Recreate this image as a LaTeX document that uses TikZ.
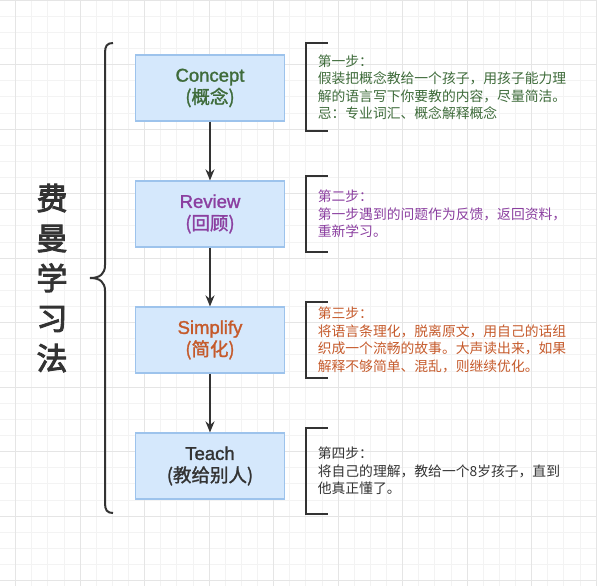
\documentclass[tikz,border=0pt]{standalone}
\usepackage{fontspec}
\setmainfont{Liberation Sans}
\newfontfamily\cjk{Noto Sans CJK SC}
\newfontfamily\boxlatin[FakeBold=1.5]{Liberation Sans}
\newfontfamily\boxcjk[FakeBold=1.5]{Noto Sans CJK SC}
\newfontfamily\titlecjk[FakeBold=3]{Noto Sans CJK SC}
\usepackage{tikz}
\usetikzlibrary{positioning,arrows.meta}

\definecolor{boxfill}{HTML}{D5E8FC}
\definecolor{boxline}{HTML}{9DC3EC}
\definecolor{stepgreen}{HTML}{3E6B3A}
\definecolor{steppurple}{HTML}{8B3FA0}
\definecolor{steporange}{HTML}{C55A2B}
\definecolor{stepgray}{HTML}{333333}
\definecolor{gridminor}{HTML}{F3F3F3}
\definecolor{gridmajor}{HTML}{E5E5E5}

\begin{document}
\begin{tikzpicture}[x=1pt,y=-1pt,node distance=126pt,on grid,>={Stealth[length=11pt,width=9pt]}]
      \tikzset{box/.style={draw=boxline,fill=boxfill,line width=1.2pt,minimum width=149pt,minimum height=66pt,align=center,font=\boxlatin\fontsize{18.5}{22}\selectfont}}
      \tikzset{note/.style={align=left,anchor=west,inner xsep=12pt,inner ysep=0pt,font=\cjk\fontsize{13.8}{17.5}\selectfont}}
      \tikzset{bracket/.style={draw=stepgray,line width=2pt}}
      \tikzset{flow/.style={->,draw=stepgray,line width=2pt}}
      
      \useasboundingbox (0,0) rectangle (597,586);
      % background grid
      \foreach \i in {0,...,37} {
        \draw[gridminor,line width=0.7pt] (-0.6+16.125*\i,0) -- (-0.6+16.125*\i,586);
        \draw[gridminor,line width=0.7pt] (0,16.125*\i) -- (597,16.125*\i);
      }
      \foreach \i in {0,...,9} {
        \draw[gridmajor,line width=0.8pt] (15.5+64.5*\i,0) -- (15.5+64.5*\i,586);
        \draw[gridmajor,line width=0.8pt] (0,64.5*\i) -- (597,64.5*\i);
      }
      
      \node[box,text=stepgreen] (concept) at (210,88) {Concept\\{\boxcjk (概念)}};
      \node[box,text=steppurple] (review) [below=of concept] {Review\\{\boxcjk (回顾)}};
      \node[box,text=steporange] (simplify) [below=of review] {Simplify\\{\boxcjk (简化)}};
      \node[box,text=stepgray] (teach) [below=of simplify] {Teach\\{\boxcjk (教给别人)}};
      
      \node[note,text=stepgreen,minimum height=88pt] (conceptnote) [on grid=false,right=20.5pt of concept,yshift=1pt]
        {第一步：\\假装把概念教给一个孩子，用孩子能力理\\解的语言写下你要教的内容，尽量简洁。\\忌：专业词汇、概念解释概念};
      \node[note,text=steppurple,minimum height=76pt] (reviewnote) [on grid=false,right=20.5pt of review]
        {第二步：\\第一步遇到的问题作为反馈，返回资料，\\重新学习。};
      \node[note,text=steporange,minimum height=75pt] (simplifynote) [on grid=false,right=20.5pt of simplify]
        {第三步：\\将语言条理化，脱离原文，用自己的话组\\织成一个流畅的故事。大声读出来，如果\\解释不够简单、混乱，则继续优化。};
      \node[note,text=stepgray,minimum height=85pt] (teachnote) [on grid=false,right=20.5pt of teach,yshift=-5pt]
        {第四步：\\将自己的理解，教给一个8岁孩子，直到\\他真正懂了。};
      
      \foreach \n in {conceptnote,reviewnote,simplifynote,teachnote}
        \draw[bracket] ([xshift=22pt]\n.north west) -- (\n.north west) -- (\n.south west) -- ([xshift=22pt]\n.south west);
      
      \node[font=\titlecjk\fontsize{31}{40}\selectfont,align=center,text=stepgray] (title) at (52,278) {费\\曼\\学\\习\\法};
      
      % brace round the four steps
      \coordinate (bracetip) at (90,278);
      \draw[stepgray,line width=2pt] (113,43) .. controls (107,43) and (105,46) .. (105,53) -- (105,265)
        .. controls (105,274) and (100,278) .. (bracetip) .. controls (100,278) and (105,282) .. (105,291)
        -- (105,503) .. controls (105,510) and (107,513) .. (113,513);
      
      \draw[flow] (concept) -- (review);
      \draw[flow] (review) -- (simplify);
      \draw[flow] (simplify) -- (teach);
\end{tikzpicture}
\end{document}
